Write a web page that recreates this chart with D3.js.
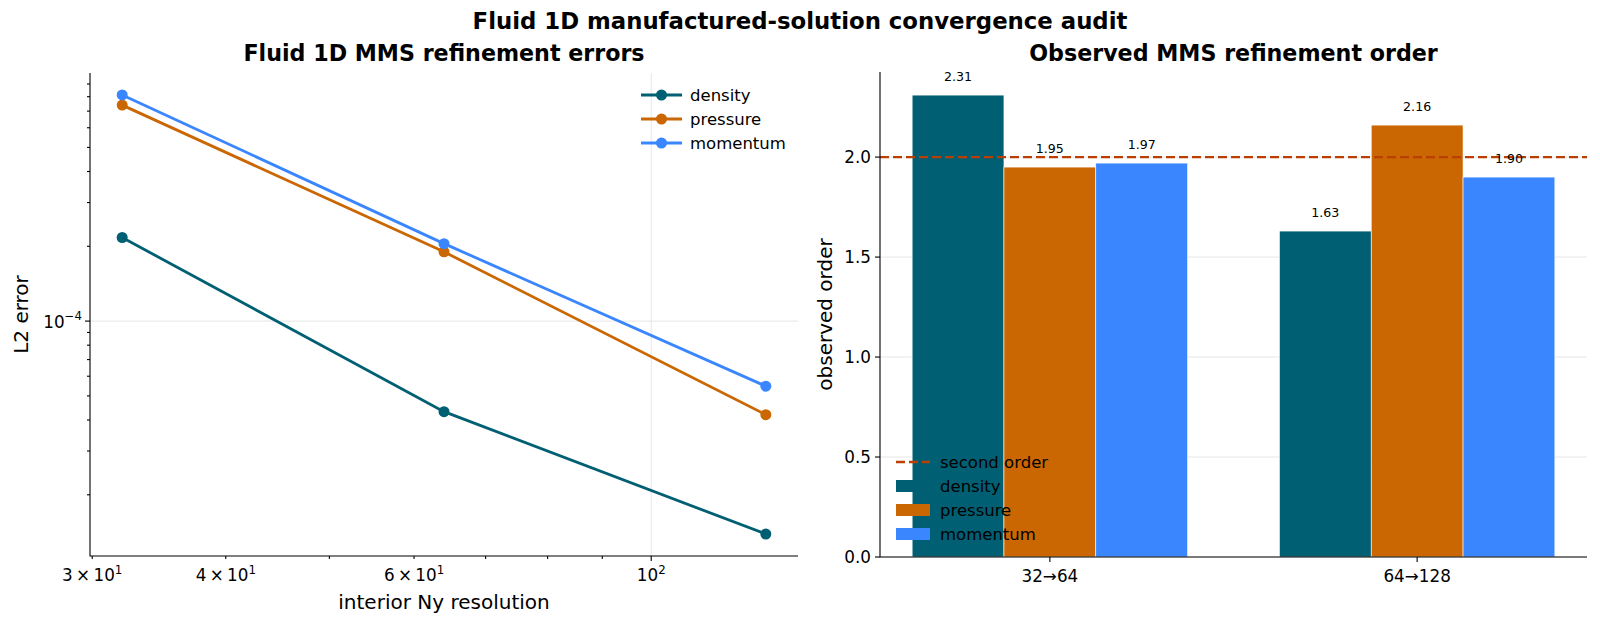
<!DOCTYPE html>
<meta charset="utf-8">
<head>
  <title>Fluid 1D MMS convergence audit</title>
</head>

<style>
body {
  margin: 0;
  background: #fff;
  font-family: "DejaVu Sans", sans-serif;
}

svg text {
  fill: #000;
}

.grid line {
  stroke: #e6e6e6;
  stroke-width: 1;
}

.spine {
  stroke: #000;
  stroke-width: 1.1;
  fill: none;
}

.tick line {
  stroke: #000;
  stroke-width: 1.1;
}
</style>

<body>
  <svg id="chart" width="1600" height="624"></svg>

  <script src="https://cdnjs.cloudflare.com/ajax/libs/d3/7.8.5/d3.min.js"></script>

  <script>
// --- data ---
var resolutions = [32, 64, 128];
var densityErr = [2.17e-4, 4.32e-5, 1.39e-5];
var pressureErr = [7.40e-4, 1.90e-4, 4.20e-5];
var momentumErr = [8.13e-4, 2.05e-4, 5.47e-5];

var transitions = ['32\u219264', '64\u2192128'];
var densityOrder = [2.31, 1.63];
var pressureOrder = [1.95, 2.16];
var momentumOrder = [1.97, 1.90];
var referenceOrder = 2.0;

var seriesNames = ['density', 'pressure', 'momentum'];
var seriesColors = ['#005f73', '#ca6702', '#3a86ff'];
var refColor = '#bb3e03';

var xMinorTicks = [30, 40, 50, 60, 70, 80, 90];
var xMajorTicks = [100];
var xTickLabels = [[30, '3', '1'], [40, '4', '1'], [60, '6', '1'], [100, null, '2']];
var yMinorTicks = [2e-5, 3e-5, 4e-5, 5e-5, 6e-5, 7e-5, 8e-5, 9e-5,
                   2e-4, 3e-4, 4e-4, 5e-4, 6e-4, 7e-4, 8e-4, 9e-4];
var yMajorTicks = [1e-4];
var orderTicks = [0, 0.5, 1.0, 1.5, 2.0];

var tickFont = '16.8px', supFont = '11.8px', labelFont = '20px',
    titleFont = '22.2px', legendFont = '16.5px';

var svg = d3.select('#chart');

// suptitle
svg.append('text')
  .attr('x', 800).attr('y', 29)
  .attr('text-anchor', 'middle')
  .style('font-size', '22.8px').style('font-weight', 'bold')
  .text('Fluid 1D manufactured-solution convergence audit');

// log-space margins like matplotlib autoscale
function logPad(vals) {
  var lo = Math.log10(d3.min(vals)), hi = Math.log10(d3.max(vals));
  var m = (hi - lo) * 0.05;
  return [Math.pow(10, lo - m), Math.pow(10, hi + m)];
}

// ================= left panel: errors =================
var L = {left: 90, right: 798, top: 73, bottom: 556};
var gL = svg.append('g');

var x = d3.scaleLog().domain(logPad(resolutions)).range([L.left, L.right]);
var allErr = densityErr.concat(pressureErr, momentumErr);
var y = d3.scaleLog().domain(logPad(allErr)).range([L.bottom, L.top]);

// grid (major only)
var grid = gL.append('g').attr('class', 'grid');
grid.selectAll('.gx').data(xMajorTicks).enter().append('line')
  .attr('x1', d => x(d)).attr('x2', d => x(d))
  .attr('y1', L.top).attr('y2', L.bottom);
grid.selectAll('.gy').data(yMajorTicks).enter().append('line')
  .attr('y1', d => y(d)).attr('y2', d => y(d))
  .attr('x1', L.left).attr('x2', L.right);

// ticks
var ticksL = gL.append('g').attr('class', 'tick');
ticksL.selectAll('.xmin').data(xMinorTicks).enter().append('line')
  .attr('x1', d => x(d)).attr('x2', d => x(d))
  .attr('y1', L.bottom).attr('y2', L.bottom + 3);
ticksL.selectAll('.xmaj').data(xMajorTicks).enter().append('line')
  .attr('x1', d => x(d)).attr('x2', d => x(d))
  .attr('y1', L.bottom).attr('y2', L.bottom + 5);
ticksL.selectAll('.ymin').data(yMinorTicks).enter().append('line')
  .attr('y1', d => y(d)).attr('y2', d => y(d))
  .attr('x1', L.left).attr('x2', L.left - 3);
ticksL.selectAll('.ymaj').data(yMajorTicks).enter().append('line')
  .attr('y1', d => y(d)).attr('y2', d => y(d))
  .attr('x1', L.left).attr('x2', L.left - 5);

// x tick labels with superscripts
xTickLabels.forEach(function(t) {
  var txt = gL.append('text')
    .attr('x', x(t[0])).attr('y', L.bottom + 25)
    .attr('text-anchor', 'middle')
    .style('font-size', tickFont);
  txt.append('tspan').text((t[1] ? t[1] + '\u2009\u00d7\u2009' : '') + '10');
  txt.append('tspan').attr('dy', -7).style('font-size', supFont).text(t[2]);
});

// y tick label 10^-4
yMajorTicks.forEach(function(v) {
  var txt = gL.append('text')
    .attr('x', L.left - 8).attr('y', y(v) + 7)
    .attr('text-anchor', 'end')
    .style('font-size', tickFont);
  txt.append('tspan').text('10');
  txt.append('tspan').attr('dy', -8).style('font-size', supFont).text('\u22124');
});

// spines
gL.append('path').attr('class', 'spine')
  .attr('d', 'M' + L.left + ',' + L.top + 'V' + L.bottom + 'H' + L.right);

// lines
var errSeries = [densityErr, pressureErr, momentumErr];
var line = d3.line().x((d, i) => x(resolutions[i])).y(d => y(d));
errSeries.forEach(function(s, k) {
  gL.append('path')
    .attr('d', line(s))
    .attr('fill', 'none')
    .attr('stroke', seriesColors[k])
    .attr('stroke-width', 2.8);
  gL.selectAll('.pt' + k).data(s).enter().append('circle')
    .attr('cx', (d, i) => x(resolutions[i]))
    .attr('cy', d => y(d))
    .attr('r', 5.5)
    .attr('fill', seriesColors[k]);
});

// titles and labels
gL.append('text')
  .attr('x', (L.left + L.right) / 2).attr('y', 61)
  .attr('text-anchor', 'middle')
  .style('font-size', titleFont).style('font-weight', 'bold')
  .text('Fluid 1D MMS refinement errors');
gL.append('text')
  .attr('x', (L.left + L.right) / 2).attr('y', 609)
  .attr('text-anchor', 'middle')
  .style('font-size', labelFont)
  .text('interior Ny resolution');
gL.append('text')
  .attr('transform', 'translate(27.5,' + (L.top + L.bottom) / 2 + ') rotate(-90)')
  .attr('text-anchor', 'middle')
  .style('font-size', labelFont)
  .text('L2 error');

// legend
var legL = gL.append('g').attr('transform', 'translate(641,95)');
seriesNames.forEach(function(n, k) {
  var row = legL.append('g').attr('transform', 'translate(0,' + k * 24 + ')');
  row.append('line').attr('x1', 0).attr('x2', 41)
    .attr('stroke', seriesColors[k]).attr('stroke-width', 2.8);
  row.append('circle').attr('cx', 20.5).attr('r', 5.5).attr('fill', seriesColors[k]);
  row.append('text').attr('x', 49).attr('y', 5.5)
    .style('font-size', legendFont).text(n);
});

// ================= right panel: observed order =================
var R = {left: 880, right: 1587, top: 72, bottom: 557};
var gR = svg.append('g');

var barW = 0.25;
var offsets = [-barW, 0, barW];
var xb = d3.scaleLinear()
  .domain([-1.5 * barW - 0.0875, transitions.length - 1 + 1.5 * barW + 0.0875])
  .range([R.left, R.right]);
var allOrder = densityOrder.concat(pressureOrder, momentumOrder);
var yb = d3.scaleLinear().domain([0, d3.max(allOrder) * 1.05]).range([R.bottom, R.top]);

// y grid
gR.append('g').attr('class', 'grid').selectAll('line').data(orderTicks).enter().append('line')
  .attr('x1', R.left).attr('x2', R.right)
  .attr('y1', d => yb(d)).attr('y2', d => yb(d));

// bars
var orderSeries = [densityOrder, pressureOrder, momentumOrder];
orderSeries.forEach(function(s, k) {
  gR.selectAll('.bar' + k).data(s).enter().append('rect')
    .attr('x', (d, i) => xb(i + offsets[k] - barW / 2))
    .attr('width', xb(barW) - xb(0))
    .attr('y', d => yb(d))
    .attr('height', d => yb(0) - yb(d))
    .attr('fill', seriesColors[k])
    .attr('stroke', '#fff')
    .attr('stroke-width', 0.6);
});

// reference line
gR.append('line')
  .attr('x1', R.left).attr('x2', R.right)
  .attr('y1', yb(referenceOrder)).attr('y2', yb(referenceOrder))
  .attr('stroke', refColor).attr('stroke-width', 2.4)
  .attr('stroke-dasharray', '9,4');

// value labels
orderSeries.forEach(function(s, k) {
  gR.selectAll('.lab' + k).data(s).enter().append('text')
    .attr('x', (d, i) => xb(i + offsets[k]))
    .attr('y', d => yb(d) - 14.5)
    .attr('text-anchor', 'middle')
    .style('font-size', '12.6px')
    .text(d => d.toFixed(2));
});

// ticks + labels
var ticksR = gR.append('g').attr('class', 'tick');
orderTicks.forEach(function(v) {
  ticksR.append('line')
    .attr('x1', R.left).attr('x2', R.left - 5)
    .attr('y1', yb(v)).attr('y2', yb(v));
  gR.append('text')
    .attr('x', R.left - 9).attr('y', yb(v) + 6)
    .attr('text-anchor', 'end')
    .style('font-size', tickFont)
    .text(v.toFixed(1));
});
transitions.forEach(function(t, i) {
  ticksR.append('line')
    .attr('x1', xb(i)).attr('x2', xb(i))
    .attr('y1', R.bottom).attr('y2', R.bottom + 5);
  gR.append('text')
    .attr('x', xb(i)).attr('y', R.bottom + 25)
    .attr('text-anchor', 'middle')
    .style('font-size', tickFont)
    .text(t);
});

gR.append('path').attr('class', 'spine')
  .attr('d', 'M' + R.left + ',' + R.top + 'V' + R.bottom + 'H' + R.right);

gR.append('text')
  .attr('x', (R.left + R.right) / 2).attr('y', 61)
  .attr('text-anchor', 'middle')
  .style('font-size', titleFont).style('font-weight', 'bold')
  .text('Observed MMS refinement order');
gR.append('text')
  .attr('transform', 'translate(832,' + (R.top + R.bottom) / 2 + ') rotate(-90)')
  .attr('text-anchor', 'middle')
  .style('font-size', labelFont)
  .text('observed order');

// legend (lower left, no frame)
var legR = gR.append('g').attr('transform', 'translate(896,462)');
legR.append('line').attr('x1', 0).attr('x2', 34)
  .attr('stroke', refColor).attr('stroke-width', 2.4)
  .attr('stroke-dasharray', '9,4');
legR.append('text').attr('x', 44).attr('y', 5.5).style('font-size', legendFont).text('second order');
seriesNames.forEach(function(n, k) {
  var row = legR.append('g').attr('transform', 'translate(0,' + (k + 1) * 24 + ')');
  row.append('rect').attr('x', 0).attr('y', -6).attr('width', 34).attr('height', 12)
    .attr('fill', seriesColors[k]);
  row.append('text').attr('x', 44).attr('y', 5.5).style('font-size', legendFont).text(n);
});
  </script>
</body>
</html>
